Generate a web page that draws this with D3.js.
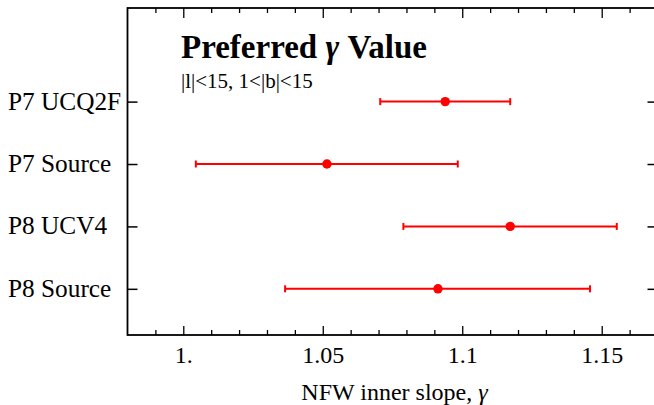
<!DOCTYPE html>
<html><head><meta charset="utf-8">
<script src="https://cdn.jsdelivr.net/npm/d3@7"></script>
<style>
html,body{margin:0;padding:0;background:#fff;}
svg text{font-family:"Liberation Serif","Times New Roman",serif !important;}
</style></head>
<body>
<svg id="chart" width="654" height="405"></svg>
<script>
const categories = ["P7 UCQ2F", "P7 Source", "P8 UCV4", "P8 Source"];
const centers = [1.0939, 1.0515, 1.1172, 1.0913];
const lowers  = [1.0706, 1.0045, 1.0789, 1.0365];
const uppers  = [1.1172, 1.0984, 1.1554, 1.1458];
const majorTicks = [1.0, 1.05, 1.1, 1.15];
const majorLabels = ["1.", "1.05", "1.1", "1.15"];
const minorTicks = [0.99,1.01,1.02,1.03,1.04,1.06,1.07,1.08,1.09,1.11,1.12,1.13,1.14,1.16];
const xDomain = [0.98, 1.17];
const yPositions = [4, 3, 2, 1];

const svg = d3.select("#chart");
const L = 127.5, R = 657.5, T = 8, B = 335;
const x = d3.scaleLinear().domain(xDomain).range([L, R]);
const y = d3.scaleLinear().domain([0.26, 5.5]).range([B, T]);

const black = "#000";
const gB = svg.append("g").attr("transform", `translate(0,${B})`)
  .call(d3.axisBottom(x).tickValues(majorTicks).tickSizeInner(-9).tickSizeOuter(0)
    .tickPadding(0).tickFormat((d,i)=>majorLabels[i]));
gB.select(".domain").remove();
gB.selectAll("line").attr("stroke", black).attr("stroke-width", 1.3);
gB.selectAll("text").attr("y", 27.7).attr("dy", null).attr("font-size", 24).attr("fill", black);
const gBm = svg.append("g").attr("transform", `translate(0,${B})`)
  .call(d3.axisBottom(x).tickValues(minorTicks).tickSizeInner(-5).tickSizeOuter(0).tickFormat(""));
gBm.select(".domain").remove();
gBm.selectAll("line").attr("stroke", black).attr("stroke-width", 1.3);

const gT = svg.append("g").attr("transform", `translate(0,${T})`)
  .call(d3.axisTop(x).tickValues(majorTicks).tickSizeInner(-10).tickSizeOuter(0).tickFormat(""));
gT.select(".domain").remove();
gT.selectAll("line").attr("stroke", black).attr("stroke-width", 1.3);
const gTm = svg.append("g").attr("transform", `translate(0,${T})`)
  .call(d3.axisTop(x).tickValues(minorTicks).tickSizeInner(-5).tickSizeOuter(0).tickFormat(""));
gTm.select(".domain").remove();
gTm.selectAll("line").attr("stroke", black).attr("stroke-width", 1.3);

const gL = svg.append("g").attr("transform", `translate(${L},0)`)
  .call(d3.axisLeft(y).tickValues(yPositions).tickSizeInner(-10).tickSizeOuter(0).tickFormat(""));
gL.select(".domain").remove();
gL.selectAll("line").attr("stroke", black).attr("stroke-width", 1.5);
const gR = svg.append("g").attr("transform", `translate(${R},0)`)
  .call(d3.axisRight(y).tickValues(yPositions).tickSizeInner(-10).tickSizeOuter(0).tickFormat(""));
gR.select(".domain").remove();
gR.selectAll("line").attr("stroke", black).attr("stroke-width", 1.5);

svg.append("rect").attr("x", L).attr("y", T).attr("width", R - L).attr("height", B - T)
  .attr("fill", "none").attr("stroke", black).attr("stroke-width", 1.8);

svg.append("g").selectAll("text").data(categories).join("text")
  .attr("x", 8).attr("y", (d,i)=>y(yPositions[i]) + 8)
  .attr("font-size", 25.3).attr("fill", black).text(d=>d);

const red = "#ff0000";
const g = svg.append("g");
categories.forEach((c,i)=>{
  const yy = y(yPositions[i]);
  g.append("line").attr("x1", x(lowers[i])).attr("x2", x(uppers[i])).attr("y1", yy).attr("y2", yy)
    .attr("stroke", red).attr("stroke-width", 2);
  [lowers[i], uppers[i]].forEach(v=>{
    g.append("line").attr("x1", x(v)).attr("x2", x(v)).attr("y1", yy-3.5).attr("y2", yy+3.5)
      .attr("stroke", red).attr("stroke-width", 2);
  });
  g.append("circle").attr("cx", x(centers[i])).attr("cy", yy).attr("r", 4.7).attr("fill", red);
});

const title = svg.append("text").attr("x", 181).attr("y", 58.4).attr("font-size", 33)
  .attr("font-weight", "bold").attr("fill", black);
title.append("tspan").text("Preferred ");
title.append("tspan").attr("font-style", "italic").text("γ");
title.append("tspan").text(" Value");
svg.append("text").attr("x", 181).attr("y", 87.5).attr("font-size", 21).attr("fill", black)
  .text("|l|<15, 1<|b|<15");

const xt = svg.append("text").attr("x", (L + R) / 2 + 2).attr("y", 400).attr("text-anchor", "middle")
  .attr("font-size", 24).attr("fill", black);
xt.append("tspan").text("NFW inner slope, ");
xt.append("tspan").attr("font-style", "italic").text("γ");
</script>
</body></html>
